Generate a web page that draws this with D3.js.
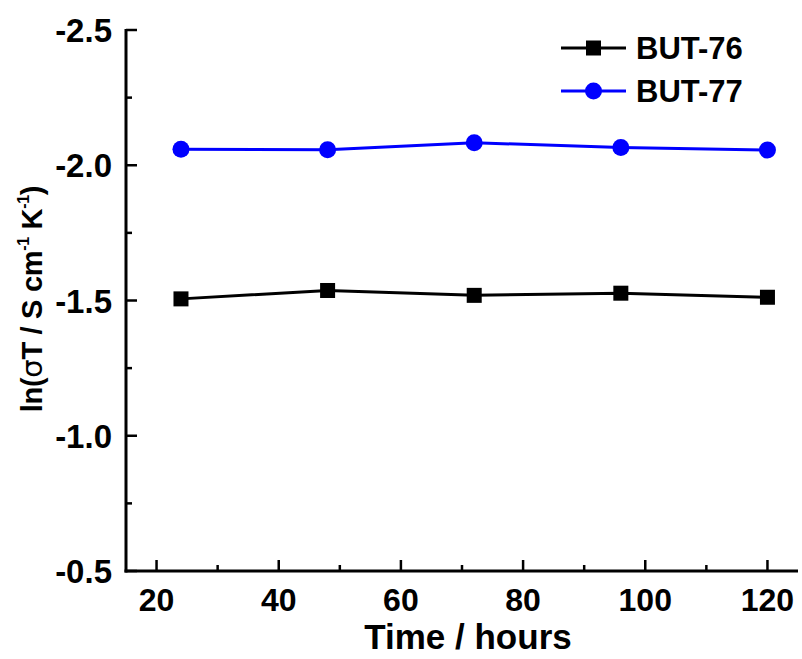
<!DOCTYPE html>
<html lang="en">
<head>
    <meta charset="UTF-8">
    <title>BUT-76 / BUT-77 stability</title>
    <script src="https://d3js.org/d3.v7.min.js"></script>
    <style>
        body { margin: 0; background: #fff; }
        text { font-family: "Liberation Sans", Arial, sans-serif; font-weight: bold; }
    </style>
</head>
<body>
    <script>
        // data
        var hours = [24, 48, 72, 96, 120];
        var but76 = [-1.506, -1.537, -1.519, -1.527, -1.512];
        var but77 = [-2.059, -2.057, -2.083, -2.066, -2.056];
        var xTicks = [20, 40, 60, 80, 100, 120];
        var yTicks = [-2.5, -2.0, -1.5, -1.0, -0.5];

        var width = 802, height = 659;
        var margin = { left: 126, right: 4, top: 30, bottom: 88 };

        var svg = d3.select("body").append("svg")
            .attr("width", width)
            .attr("height", height);

        var x = d3.scaleLinear().domain([15, 125]).range([margin.left, width - margin.right]);
        var y = d3.scaleLinear().domain([-2.5, -0.5]).range([margin.top, height - margin.bottom]);

        // minor ticks
        var xMinor = d3.range(30, 125, 20);
        var yMinor = d3.range(-2.25, -0.5, 0.5);

        var g = svg.append("g");

        // bottom axis
        var xAxis = g.append("g").attr("transform", "translate(0," + y(-0.5) + ")");
        xAxis.selectAll("line.major").data(xTicks).enter().append("line")
            .attr("x1", function(d) { return x(d); }).attr("x2", function(d) { return x(d); })
            .attr("y1", 0).attr("y2", -11)
            .attr("stroke", "#000").attr("stroke-width", 2.5);
        xAxis.selectAll("line.minor").data(xMinor).enter().append("line")
            .attr("x1", function(d) { return x(d); }).attr("x2", function(d) { return x(d); })
            .attr("y1", 0).attr("y2", -6)
            .attr("stroke", "#000").attr("stroke-width", 2.5);
        xAxis.selectAll("text").data(xTicks).enter().append("text")
            .attr("x", function(d) { return x(d); })
            .attr("y", 40)
            .attr("text-anchor", "middle")
            .attr("font-size", 32)
            .text(function(d) { return d; });
        xAxis.append("line")
            .attr("x1", x(15) - 1.5).attr("x2", x(125))
            .attr("stroke", "#000").attr("stroke-width", 3);

        // left axis
        var yAxis = g.append("g").attr("transform", "translate(" + x(15) + ",0)");
        yAxis.selectAll("line.major").data(yTicks).enter().append("line")
            .attr("y1", function(d) { return y(d); }).attr("y2", function(d) { return y(d); })
            .attr("x1", 0).attr("x2", 11)
            .attr("stroke", "#000").attr("stroke-width", 2.5);
        yAxis.selectAll("line.minor").data(yMinor).enter().append("line")
            .attr("y1", function(d) { return y(d); }).attr("y2", function(d) { return y(d); })
            .attr("x1", 0).attr("x2", 6)
            .attr("stroke", "#000").attr("stroke-width", 2.5);
        yAxis.selectAll("text").data(yTicks).enter().append("text")
            .attr("x", -14)
            .attr("y", function(d) { return y(d) + 12; })
            .attr("text-anchor", "end")
            .attr("font-size", 33)
            .text(function(d) { return d.toFixed(1); });
        yAxis.append("line")
            .attr("y1", y(-2.5) - 1).attr("y2", y(-0.5) + 1.5)
            .attr("stroke", "#000").attr("stroke-width", 3);

        // axis titles
        svg.append("text")
            .attr("x", 468)
            .attr("y", 649)
            .attr("text-anchor", "middle")
            .attr("font-size", 35)
            .text("Time / hours");

        var yt = svg.append("text")
            .attr("transform", "translate(42,299) rotate(-90)")
            .attr("text-anchor", "middle")
            .attr("font-size", 29)
            .attr("letter-spacing", -0.3);
        yt.append("tspan").text("ln(");
        yt.append("tspan").attr("font-family", "DejaVu Sans").attr("font-weight", "normal").text("σ");
        yt.append("tspan").text("T / S cm");
        yt.append("tspan").attr("font-size", 16).attr("dy", -13).text("-1");
        yt.append("tspan").attr("dy", 13).text(" K");
        yt.append("tspan").attr("font-size", 16).attr("dy", -13).text("-1");
        yt.append("tspan").attr("dy", 13).text(")");

        var line = d3.line()
            .x(function(d, i) { return x(hours[i]); })
            .y(function(d) { return y(d); });

        // BUT-76
        svg.append("path").datum(but76)
            .attr("d", line).attr("fill", "none")
            .attr("stroke", "#000").attr("stroke-width", 3);
        svg.selectAll("rect.s76").data(but76).enter().append("rect")
            .attr("x", function(d, i) { return x(hours[i]) - 7.5; })
            .attr("y", function(d) { return y(d) - 7.5; })
            .attr("width", 15).attr("height", 15)
            .attr("fill", "#000");

        // BUT-77
        svg.append("path").datum(but77)
            .attr("d", line).attr("fill", "none")
            .attr("stroke", "#0000ff").attr("stroke-width", 3);
        svg.selectAll("circle.s77").data(but77).enter().append("circle")
            .attr("cx", function(d, i) { return x(hours[i]); })
            .attr("cy", function(d) { return y(d); })
            .attr("r", 8.5)
            .attr("fill", "#0000ff");

        // legend
        var legend = svg.append("g");
        legend.append("line").attr("x1", 561).attr("x2", 626).attr("y1", 48).attr("y2", 48)
            .attr("stroke", "#000").attr("stroke-width", 3);
        legend.append("rect").attr("x", 586).attr("y", 40.5).attr("width", 15).attr("height", 15).attr("fill", "#000");
        legend.append("text").attr("x", 636).attr("y", 59).attr("font-size", 31).text("BUT-76");
        legend.append("line").attr("x1", 561).attr("x2", 626).attr("y1", 91).attr("y2", 91)
            .attr("stroke", "#0000ff").attr("stroke-width", 3);
        legend.append("circle").attr("cx", 593.5).attr("cy", 91).attr("r", 8.5).attr("fill", "#0000ff");
        legend.append("text").attr("x", 636).attr("y", 102).attr("font-size", 31).text("BUT-77");
    </script>
</body>
</html>
